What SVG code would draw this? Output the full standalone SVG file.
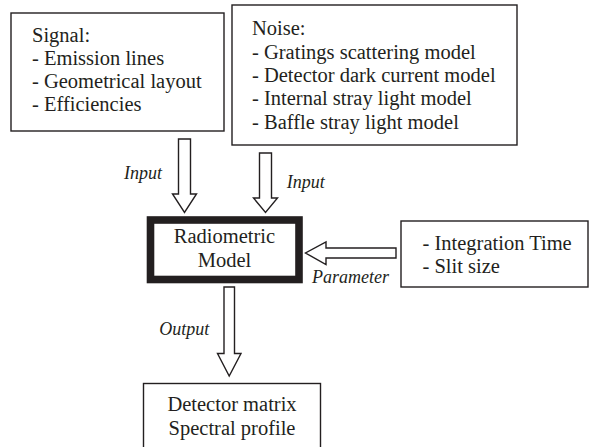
<svg xmlns="http://www.w3.org/2000/svg" width="590" height="447" viewBox="0 0 590 447">
<style>
.box{fill:#fff;stroke:#231f20;stroke-width:1.4}
.txt{font-family:"Liberation Serif","Times New Roman",serif;font-size:20.5px;fill:#231f20}
.lbl{font-family:"Liberation Serif","Times New Roman",serif;font-size:18px;font-style:italic;fill:#231f20}
.arrow{fill:#fff;stroke:#231f20;stroke-width:1.4;stroke-linejoin:miter}
</style>
<rect width="590" height="447" fill="#fff"/>
<g id="signal">
<rect class="box" x="11" y="13" width="213" height="118"/>
<text class="txt" x="32" y="42">Signal:</text>
<text class="txt" x="32" y="65">- Emission lines</text>
<text class="txt" x="32" y="88">- Geometrical layout</text>
<text class="txt" x="32" y="111">- Efficiencies</text>
</g>
<g id="noise">
<rect class="box" x="232" y="5" width="285" height="140"/>
<text class="txt" x="252" y="35">Noise:</text>
<text class="txt" x="252" y="58.5">- Gratings scattering model</text>
<text class="txt" x="252" y="82">- Detector dark current model</text>
<text class="txt" x="252" y="105">- Internal stray light model</text>
<text class="txt" x="252" y="128.5">- Baffle stray light model</text>
</g>
<g id="radiometric">
<rect x="150.5" y="220" width="148.5" height="59.5" fill="#fff" stroke="#231f20" stroke-width="7.6"/>
<text class="txt" x="224.5" y="242.7" text-anchor="middle">Radiometric</text>
<text class="txt" x="224.5" y="267.3" text-anchor="middle">Model</text>
</g>
<g id="parameters">
<rect class="box" x="401" y="221" width="187" height="66"/>
<text class="txt" x="422.5" y="250">- Integration Time</text>
<text class="txt" x="422.5" y="272.7">- Slit size</text>
</g>
<g id="output">
<rect class="box" x="143.5" y="383.5" width="177" height="70"/>
<text class="txt" x="232" y="411" text-anchor="middle">Detector matrix</text>
<text class="txt" x="232" y="435" text-anchor="middle">Spectral profile</text>
</g>
<g id="connectors">
<polygon class="arrow" points="178.5,139 190.5,139 190.5,194 196.5,194 184.5,212.5 172.5,194 178.5,194"/>
<text class="lbl" x="124" y="179.3">Input</text>
<polygon class="arrow" points="259.5,153 271.5,153 271.5,198 277.5,198 265.5,212.5 253.5,198 259.5,198"/>
<text class="lbl" x="286.7" y="188.3">Input</text>
<polygon class="arrow" points="396,248 326,248 326,242 305.5,253 326,264.5 326,258 396,258"/>
<text class="lbl" x="312" y="283">Parameter</text>
<polygon class="arrow" points="224,287 234.5,287 234.5,353.5 241,353.5 229.2,376 217.5,353.5 224,353.5"/>
<text class="lbl" x="159.3" y="335">Output</text>
</g>
</svg>
